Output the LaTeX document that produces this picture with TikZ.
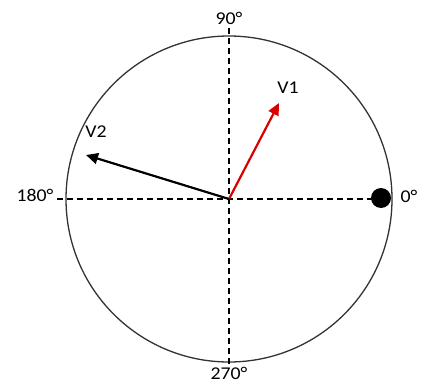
\documentclass[tikz,border=0pt]{standalone}
\usepackage{fontspec}
\setmainfont{Carlito}
\usetikzlibrary{arrows.meta}
\begin{document}
\begin{tikzpicture}[x=1pt,y=-1pt,
  axis/.style={draw=black, line width=1.1pt, dash pattern=on 6pt off 4pt},
  vec/.style={line width=2.2pt, -{Triangle[length=12pt,width=11pt]}},
  lbl/.style={font=\fontsize{18}{18}\selectfont, inner sep=0pt, xscale=1.1}]
\useasboundingbox (0,0) rectangle (422,385);
\coordinate (O) at (229,199);
\draw[line width=1.3pt, draw=black!80] (O) circle (163);
\coordinate (top) at (229,28);
\coordinate (bot) at (229,364);
\coordinate (lft) at (57,199);
\coordinate (rgt) at (375,199);
\draw[axis] (top) -- (bot);
\draw[axis] (lft) -- (rgt);
\node[circle, fill=black, minimum size=20pt, inner sep=0pt] (dot) at (381,198) {};
\coordinate (v1) at (279,103);
\coordinate (v2) at (86,155);
\draw[vec, draw=red!85!black, fill=red!85!black] (O) -- (v1);
\draw[vec, draw=black] (O) -- (v2);
\node[lbl] (l90) at (229,18) {90°};
\node[lbl] (l180) at (35,195) {180°};
\node[lbl] (l0) at (409,196) {0°};
\node[lbl] (l270) at (229,373) {270°};
\node[lbl] (lv1) at (288,88) {V1};
\node[lbl] (lv2) at (96,132) {V2};
\end{tikzpicture}
\end{document}
